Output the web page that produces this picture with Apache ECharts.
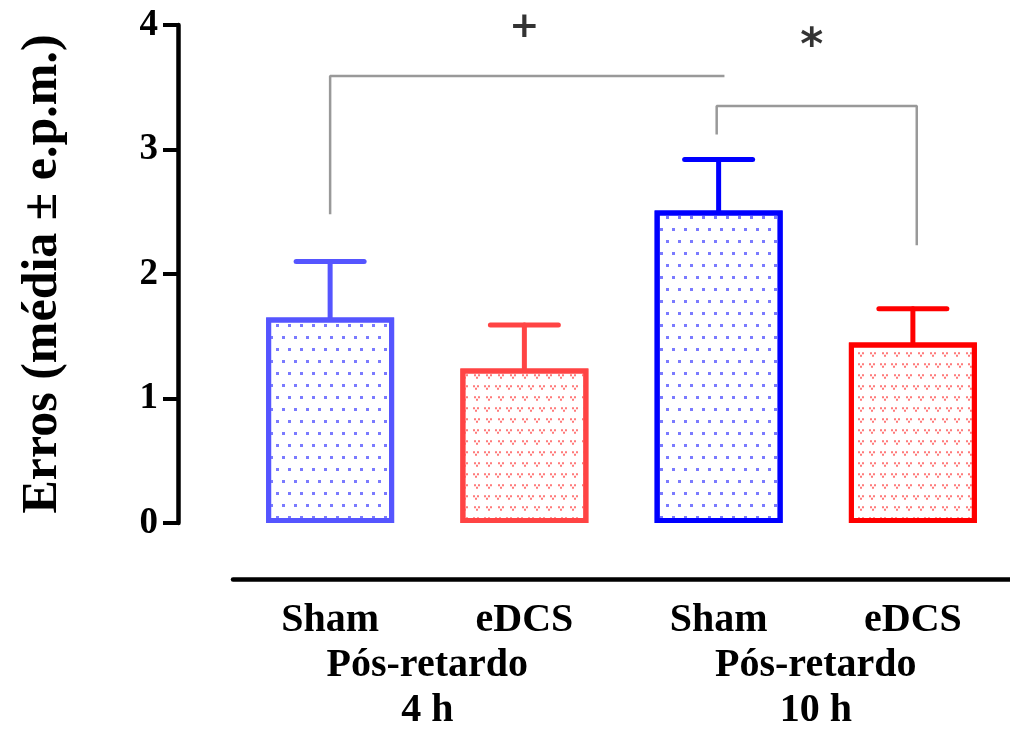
<!DOCTYPE html>
<html>
<head>
<meta charset="utf-8">
<script src="https://cdn.jsdelivr.net/npm/echarts@6/dist/echarts.min.js"></script>
<style>
	html, body { margin: 0; padding: 0; background: #fff; overflow: hidden; }
	#chart { width: 1010px; height: 733px; }
</style>
</head>
<body>
<div id="chart"></div>
<script>
	// dados
	var categories = ['Sham', 'eDCS', 'Sham', 'eDCS'];
	var means = [1.65, 1.24, 2.51, 1.45];
	var sems = [0.45, 0.35, 0.41, 0.27];
	var groupLabels = ['Pós-retardo\n4 h', 'Pós-retardo\n10 h'];
	var yTicks = [0, 1, 2, 3, 4];

	// colchetes de significância (x = índice da barra, y = valor)
	var bracket1 = [[0, 2.48], [0, 3.59], [2.03, 3.59]];
	var bracket2 = [[1.99, 3.12], [1.99, 3.35], [3.02, 3.35], [3.02, 2.23]];
	var marks = [[1.0, 3.98, '+'], [2.48, 3.82, '*']];

	var font = 'Liberation Serif';
	var borderColors = ['#5555ff', '#ff4444', '#0000ff', '#ff0000'];

	// padrões de preenchimento
	var dotDecal = {
		symbol: 'rect', symbolSize: 1, color: '#7a7aff',
		dashArrayX: [[2.5, 8.5], [0, 5.5, 2.5, 3]], dashArrayY: [2.5, 8.7]
	};
	var vDecal = {
		symbol: 'path://M0,0h2v2h-2z M4,0h2v2h-2z M2,2.5h2v2h-2z', symbolSize: 1, color: '#ff7a7a',
		dashArrayX: [[6, 5], [0, 5.5, 6, -0.5]], dashArrayY: [5, 6]
	};

	var barData = means.map(function (v, i) {
		return {
			value: v,
			itemStyle: {
				color: '#fff',
				borderColor: borderColors[i],
				borderWidth: 5,
				decal: i % 2 === 0 ? dotDecal : vDecal
			}
		};
	});
	var errData = means.map(function (v, i) {
		return [i, v, v + sems[i]];
	});

	var chart = echarts.init(document.getElementById('chart'));
	chart.setOption({
		backgroundColor: '#fff',
		animation: false,
		grid: { left: 233, top: 25, width: 783, height: 502 },
		xAxis: [{
			type: 'category',
			position: 'bottom',
			data: categories,
			offset: 56,
			axisLine: { onZero: false, lineStyle: { color: '#000', width: 4.5 } },
			axisTick: { alignWithLabel: true, length: 17, lineStyle: { color: '#000', width: 4 } },
			axisLabel: { color: '#000', fontFamily: font, fontWeight: 'bold', fontSize: 40, margin: 22 }
		}, {
			type: 'value', position: 'bottom', min: -0.5, max: 3.5, show: false
		}, {
			type: 'category',
			position: 'bottom',
			data: groupLabels,
			offset: 56,
			axisLine: { show: false, onZero: false },
			axisTick: { show: false },
			axisLabel: { color: '#000', fontFamily: font, fontWeight: 'bold', fontSize: 40, lineHeight: 45, margin: 64 }
		}],
		yAxis: {
			type: 'value',
			min: 0, max: 4, interval: 1,
			offset: 55,
			name: 'Erros (média ± e.p.m.)',
			nameLocation: 'middle',
			nameGap: 110,
			nameTextStyle: { color: '#000', fontFamily: font, fontWeight: 'bold', fontSize: 50 },
			splitLine: { show: false },
			axisLine: { show: true, onZero: false, lineStyle: { color: '#000', width: 4.5 } },
			axisTick: { show: true, length: 15, lineStyle: { color: '#000', width: 4 } },
			axisLabel: {
				color: '#000', fontFamily: font, fontWeight: 'bold', fontSize: 37, margin: 20,
				formatter: function (v) { return yTicks.indexOf(v) >= 0 ? String(v) : ''; }
			}
		},
		series: [{
			type: 'custom',
			xAxisIndex: 0,
			data: errData,
			renderItem: function (params, api) {
				var i = api.value(0);
				var p0 = api.coord([i, api.value(1)]);
				var p1 = api.coord([i, api.value(2)]);
				var half = api.size([1, 0])[0] * 0.175;
				var st = { stroke: borderColors[i], lineWidth: 5, lineCap: 'round' };
				return {
					type: 'group',
					children: [
						{ type: 'line', shape: { x1: p0[0], y1: p0[1], x2: p1[0], y2: p1[1] }, style: st },
						{ type: 'line', shape: { x1: p1[0] - half, y1: p1[1], x2: p1[0] + half, y2: p1[1] }, style: st }
					]
				};
			}
		}, {
			type: 'bar',
			xAxisIndex: 0,
			barWidth: 128,
			data: barData
		}, {
			type: 'line',
			xAxisIndex: 1,
			data: bracket1,
			symbol: 'none',
			lineStyle: { color: '#999', width: 2.5 }
		}, {
			type: 'line',
			xAxisIndex: 1,
			data: bracket2,
			symbol: 'none',
			lineStyle: { color: '#999', width: 2.5 }
		}, {
			type: 'scatter',
			xAxisIndex: 1,
			clip: false,
			symbolSize: 0,
			data: marks.map(function (m) {
				return { value: m, label: { fontSize: m[2] === '*' ? 44 : 36 } };
			}),
			label: {
				show: true, position: 'inside', color: '#000',
				fontFamily: 'DejaVu Sans', fontWeight: 'bold',
				formatter: function (p) { return p.value[2]; }
			}
		}]
	});
</script>
</body>
</html>
